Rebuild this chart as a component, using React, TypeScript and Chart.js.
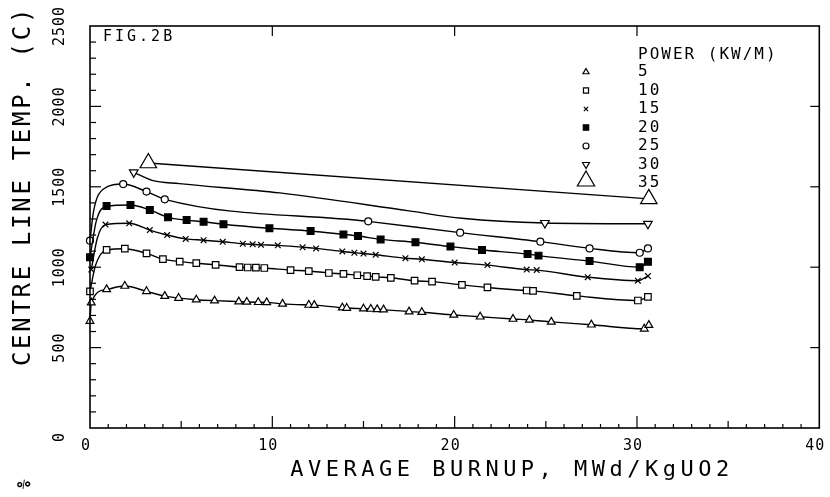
import React, { useEffect, useRef } from 'react';
import { Chart, registerables } from 'chart.js';
import { drawPoint } from 'chart.js/helpers';

Chart.register(...registerables);

// ---- data ----
const X5 = [0, 0.07, 0.91, 1.91, 3.1, 4.1, 4.86, 5.83, 6.83, 8.16, 8.6, 9.23, 9.69, 10.56, 12.0, 12.3, 13.84, 14.08, 15.0, 15.4, 15.75, 16.1, 17.5, 18.2, 19.95, 21.4, 23.2, 24.1, 25.3, 27.5, 30.4, 30.65];
const Y5 = [665, 780, 862, 883, 850, 820, 808, 798, 792, 786, 784, 782, 781, 772, 765, 764, 748, 746, 742, 740, 738, 736, 724, 720, 703, 692, 678, 672, 660, 642, 617, 640];
const M5 = X5.map(() => 1);

const X10 = [0, 0.3, 0.91, 1.91, 3.1, 4.0, 4.92, 5.83, 6.89, 8.2, 8.65, 9.1, 9.56, 11.0, 12.0, 13.1, 13.9, 14.66, 15.2, 15.67, 16.5, 17.8, 18.76, 20.4, 21.8, 23.95, 24.3, 26.7, 30.05, 30.6];
const Y10 = [850, 1010, 1108, 1115, 1086, 1050, 1035, 1025, 1015, 1000, 998, 997, 995, 982, 976, 964, 958, 950, 945, 940, 934, 916, 910, 890, 874, 855, 853, 822, 793, 815];
const M10 = [1, 0, 1, 1, 1, 1, 1, 1, 1, 1, 1, 1, 1, 1, 1, 1, 1, 1, 1, 1, 1, 1, 1, 1, 1, 1, 1, 1, 1, 1];

const X15 = [0.07, 0.4, 0.85, 2.15, 3.28, 4.23, 5.25, 6.23, 7.28, 8.38, 8.92, 9.38, 10.3, 11.66, 12.4, 13.84, 14.5, 15.0, 15.67, 17.3, 18.2, 20.0, 21.8, 23.95, 24.5, 27.3, 30.05, 30.6];
const Y15 = [985, 1180, 1265, 1273, 1231, 1200, 1176, 1168, 1158, 1146, 1142, 1139, 1136, 1124, 1117, 1098, 1090, 1085, 1077, 1056, 1049, 1029, 1013, 985, 982, 938, 916, 945];
const M15 = [1, 0, 1, 1, 1, 1, 1, 1, 1, 1, 1, 1, 1, 1, 1, 1, 1, 1, 1, 1, 1, 1, 1, 1, 1, 1, 1, 1];

const X20 = [0, 0.35, 0.91, 2.22, 3.28, 4.28, 5.3, 6.23, 7.32, 9.84, 12.1, 13.9, 14.7, 15.94, 17.85, 19.77, 21.5, 24.0, 24.6, 27.4, 30.15, 30.6];
const Y20 = [1062, 1290, 1380, 1387, 1356, 1310, 1293, 1283, 1267, 1242, 1225, 1204, 1194, 1173, 1155, 1128, 1107, 1082, 1072, 1038, 1000, 1034];
const M20 = [1, 0, 1, 1, 1, 1, 1, 1, 1, 1, 1, 1, 1, 1, 1, 1, 1, 1, 1, 1, 1, 1];

const X25 = [0, 0.2, 0.72, 1.82, 3.1, 4.1, 15.26, 20.3, 24.7, 27.4, 30.15, 30.6];
const Y25 = [1165, 1350, 1485, 1517, 1470, 1422, 1285, 1215, 1159, 1117, 1090, 1117];
const M25 = [1, 0, 0, 1, 1, 1, 1, 1, 1, 1, 1, 1];

const X30 = [2.4, 3.4, 4.9, 10.4, 17.5, 20.4, 24.95, 30.6];
const Y30 = [1590, 1540, 1520, 1462, 1350, 1304, 1275, 1270];
const M30 = [1, 0, 0, 0, 0, 0, 1, 1];

const X35 = [3.2, 30.65];
const Y35 = [1648, 1425];
const M35 = [1, 1];

const POWERS = ['5', '10', '15', '20', '25', '30', '35'];
const X_TICKS = [0, 10, 20, 30, 40];
const Y_TICKS = [0, 500, 1000, 1500, 2000, 2500];
const X_TITLE = 'AVERAGE BURNUP, MWd/KgUO2';
const Y_TITLE = 'CENTRE LINE TEMP. (C)';
const LEGEND_TITLE = 'POWER (KW/M)';
const FIG_LABEL = 'FIG.2B';

const SERIES = [
  [X5, Y5, M5],
  [X10, Y10, M10],
  [X15, Y15, M15],
  [X20, Y20, M20],
  [X25, Y25, M25],
  [X30, Y30, M30],
  [X35, Y35, M35],
];

const STYLES = [
  { pointStyle: 'triangle', radius: 4.5, fill: '#fff', rotation: 0, legendR: 3.5 },
  { pointStyle: 'rect', radius: 4.6, fill: '#fff', rotation: 0, legendR: 3.6 },
  { pointStyle: 'crossRot', radius: 4, fill: '#fff', rotation: 0, legendR: 3 },
  { pointStyle: 'rect', radius: 4.8, fill: '#000', rotation: 0, legendR: 3.8 },
  { pointStyle: 'circle', radius: 3.5, fill: '#fff', rotation: 0, legendR: 3 },
  { pointStyle: 'triangle', radius: 5, fill: '#fff', rotation: 180, legendR: 4 },
  { pointStyle: 'triangle', radius: 9.5, fill: '#fff', rotation: 0, legendR: 10 },
];

const FONT = '"DejaVu Sans Mono", "Liberation Mono", monospace';

function setSpacing(ctx: any, v: string) {
  try { ctx.letterSpacing = v; } catch (e) { /* ignore */ }
}

const decorPlugin = {
  id: 'decor',
  afterDraw(chart: any) {
    const ctx = chart.ctx;
    const { left, top, right, bottom } = chart.chartArea;
    const xs = chart.scales.x;
    const ys = chart.scales.y;
    ctx.save();
    ctx.strokeStyle = '#000';
    ctx.fillStyle = '#000';
    ctx.lineWidth = 1.6;
    ctx.strokeRect(left, top, right - left, bottom - top);

    const seg = (x1: number, y1: number, x2: number, y2: number) => {
      ctx.beginPath();
      ctx.moveTo(x1, y1);
      ctx.lineTo(x2, y2);
      ctx.stroke();
    };
    ctx.lineWidth = 1.2;
    for (let v = 1; v < 40; v++) {
      const px = xs.getPixelForValue(v);
      const len = v % 10 === 0 ? 12 : v % 5 === 0 ? 7 : 4;
      seg(px, bottom, px, bottom - len);
    }
    for (const v of [10, 20, 30]) {
      const px = xs.getPixelForValue(v);
      seg(px, top, px, top + 10);
    }
    for (let v = 100; v < 2500; v += 100) {
      const py = ys.getPixelForValue(v);
      const len = v % 500 === 0 ? 11 : 6;
      seg(left, py, left + len, py);
    }
    for (const v of [500, 1000, 1500, 2000]) {
      const py = ys.getPixelForValue(v);
      seg(right, py, right - 9, py);
    }

    // x tick labels
    ctx.font = '15px ' + FONT;
    setSpacing(ctx, '1px');
    ctx.textAlign = 'center';
    ctx.textBaseline = 'middle';
    for (const v of X_TICKS) {
      ctx.fillText(String(v), xs.getPixelForValue(v) - 4, bottom + 18);
    }
    // y tick labels (rotated)
    for (const v of Y_TICKS) {
      const py = ys.getPixelForValue(v) + (v === 0 ? 9 : 0);
      ctx.save();
      ctx.translate(60, py);
      ctx.rotate(-Math.PI / 2);
      ctx.fillText(String(v), 0, 0);
      ctx.restore();
    }

    // axis titles
    ctx.font = '22px ' + FONT;
    setSpacing(ctx, '4.5px');
    ctx.fillText(X_TITLE, 512, 470);
    ctx.save();
    ctx.font = '24px ' + FONT;
    setSpacing(ctx, '2.7px');
    ctx.translate(24, 186);
    ctx.rotate(-Math.PI / 2);
    ctx.fillText(Y_TITLE, 0, 0);
    ctx.restore();

    // figure label
    ctx.font = '15px ' + FONT;
    setSpacing(ctx, '3px');
    ctx.textAlign = 'left';
    ctx.fillText(FIG_LABEL, 103, 37);

    // legend
    ctx.font = '16px ' + FONT;
    setSpacing(ctx, '2px');
    ctx.fillText(LEGEND_TITLE, 638, 55);
    POWERS.forEach((p, i) => {
      const yy = 72 + i * 18.5;
      ctx.fillStyle = '#000';
      ctx.fillText(p, 638, yy);
      const st = STYLES[i];
      ctx.save();
      ctx.fillStyle = st.fill;
      ctx.strokeStyle = '#000';
      ctx.lineWidth = 1.2;
      drawPoint(ctx, { pointStyle: st.pointStyle, rotation: st.rotation, radius: st.legendR, borderWidth: 1.2 }, 586, i === 6 ? yy - 2 : yy);
      ctx.restore();
    });

    // stray mark at the bottom-left of the scan
    ctx.save();
    ctx.font = 'bold 17px ' + FONT;
    setSpacing(ctx, '0px');
    ctx.translate(25, 485);
    ctx.rotate(-Math.PI / 3);
    ctx.textAlign = 'center';
    ctx.fillText('%', 0, 0);
    ctx.restore();

    setSpacing(ctx, '0px');
    ctx.restore();
  },
};

export default function App() {
  const ref = useRef<HTMLCanvasElement | null>(null);
  useEffect(() => {
    document.body.style.margin = '0';
    const canvas = ref.current;
    if (!canvas) return;
    const datasets = SERIES.map(([xs, ys, ms], i) => {
      const st = STYLES[i];
      return {
        label: POWERS[i],
        data: xs.map((x, j) => ({ x, y: ys[j] })),
        borderColor: '#000',
        borderWidth: 1.4,
        cubicInterpolationMode: 'monotone',
        pointStyle: st.pointStyle,
        pointRotation: st.rotation,
        pointRadius: ms.map((m) => (m ? st.radius : 0)),
        pointHoverRadius: ms.map((m) => (m ? st.radius : 0)),
        pointBackgroundColor: st.fill,
        pointBorderColor: '#000',
        pointBorderWidth: 1.2,
        fill: false,
        clip: false,
      };
    });
    const chart = new Chart(canvas, {
      type: 'line',
      data: { datasets: datasets as any },
      options: {
        responsive: false,
        animation: false,
        events: [],
        layout: { padding: { left: 90, right: 8, top: 26, bottom: 69 } },
        scales: {
          x: { type: 'linear', min: 0, max: 40, display: false },
          y: { type: 'linear', min: 0, max: 2500, display: false },
        },
        plugins: { legend: { display: false }, tooltip: { enabled: false } },
      },
      plugins: [decorPlugin],
    });
    return () => chart.destroy();
  }, []);
  return (
    <div style={{ width: 830, height: 497, background: '#fff' }}>
      <canvas ref={ref} width={830} height={497} style={{ display: 'block' }} />
    </div>
  );
}
